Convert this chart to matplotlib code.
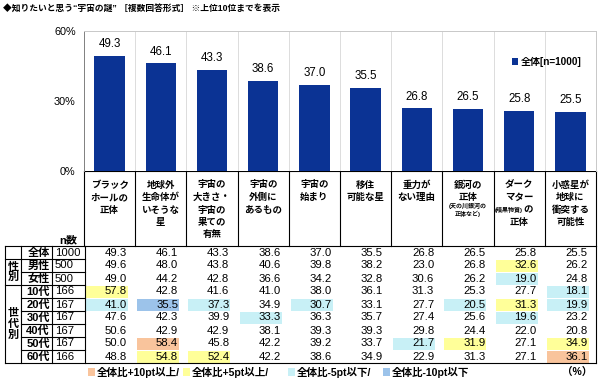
import matplotlib.pyplot as plt
from matplotlib.patches import Rectangle

plt.rcParams['font.family'] = ['Liberation Sans', 'Noto Sans CJK JP', 'DejaVu Sans']

# ---- data ----
categories = ['ブラック\nホールの\n正体', '地球外\n生命体が\nいそうな\n星', '宇宙の\n大きさ・\n宇宙の\n果ての\n有無',
              '宇宙の\n外側に\nあるもの', '宇宙の\n始まり', '移住\n可能な星', '重力が\nない理由',
              '銀河の\n正体', 'ダーク\nマター\n\n正体', '小惑星が\n地球に\n衝突する\n可能性']
overall = [49.3, 46.1, 43.3, 38.6, 37.0, 35.5, 26.8, 26.5, 25.8, 25.5]
row_labels = ['全体', '男性', '女性', '10代', '20代', '30代', '40代', '50代', '60代']
row_n = [1000, 500, 500, 166, 167, 167, 167, 167, 166]
rows = [
    [49.3, 46.1, 43.3, 38.6, 37.0, 35.5, 26.8, 26.5, 25.8, 25.5],
    [49.6, 48.0, 43.8, 40.6, 39.8, 38.2, 23.0, 26.8, 32.6, 26.2],
    [49.0, 44.2, 42.8, 36.6, 34.2, 32.8, 30.6, 26.2, 19.0, 24.8],
    [57.8, 42.8, 41.6, 41.0, 38.0, 36.1, 31.3, 25.3, 27.7, 18.1],
    [41.0, 35.5, 37.3, 34.9, 30.7, 33.1, 27.7, 20.5, 31.3, 19.9],
    [47.6, 42.3, 39.9, 33.3, 36.3, 35.7, 27.4, 25.6, 19.6, 23.2],
    [50.6, 42.9, 42.9, 38.1, 39.3, 39.3, 29.8, 24.4, 22.0, 20.8],
    [50.0, 58.4, 45.8, 42.2, 39.2, 33.7, 21.7, 31.9, 27.1, 34.9],
    [48.8, 54.8, 52.4, 42.2, 38.6, 34.9, 22.9, 31.3, 27.1, 36.1],
]

BAR = '#0b3394'
C_P10 = '#f9c49c'
C_P5 = '#ffff99'
C_M5 = '#c8f0f6'
C_M10 = '#9cc3ea'

W, H = 600, 379
fig = plt.figure(figsize=(6, 3.79), dpi=100)

# full-figure overlay in pixel coords for table and text
tab = fig.add_axes([0, 0, 1, 1])
tab.set_xlim(0, W)
tab.set_ylim(H, 0)
tab.axis('off')

x0, x1 = 84, 596
ytop, ybot = 31, 171
colw = (x1 - x0) / 10

ax = fig.add_axes([x0 / W, 1 - ybot / H, (x1 - x0) / W, (ybot - ytop) / H])
xs = list(range(10))
ax.bar(xs, overall, width=0.59, color=BAR, label='全体[n=1000]', zorder=3)
for x, v in zip(xs, overall):
    ax.text(x, v + 2.5, f'{v:.1f}', ha='center', va='bottom', fontsize=8.3)
ax.set_xlim(-0.5, 9.5)
ax.set_ylim(0, 60)
ax.set_yticks([0, 30, 60])
ax.set_yticklabels(['0%', '30%', '60%'], fontsize=7.8)
ax.tick_params(axis='y', length=0, pad=6)
ax.set_xticks([])
for i in range(1, 10):
    ax.axvline(i - 0.5, color='#dcdcdc', lw=0.7, zorder=1)
for s in ['top', 'right']:
    ax.spines[s].set_color('#c8c8c8')
    ax.spines[s].set_linewidth(0.7)
ax.spines['left'].set_color('#808080')
ax.spines['left'].set_linewidth(0.7)
ax.spines['bottom'].set_visible(False)
ax.legend(loc='upper right', bbox_to_anchor=(0.99, 0.88), frameon=False,
          handlelength=0.6, handleheight=0.6, handletextpad=0.3,
          prop={'weight': 'bold', 'size': 7.2})

# title
tab.text(3, 8, '◆知りたいと思う“宇宙の謎” ［複数回答形式］ ※上位10位までを表示',
         fontsize=6.3, fontweight='bold', va='center', ha='left')

# ---- table ----
hy0 = ybot
ry0 = 246
rh = 13
ry1 = ry0 + rh * len(rows)
lc = 0.8
k = 'black'

# header text
for i, lab in enumerate(categories):
    cx = x0 + colw * (i + 0.5)
    for j, line in enumerate(lab.split('\n')):
        if line:
            tab.text(cx, 185 + 12.5 * j, line, ha='center', va='center',
                     fontsize=6.8, fontweight='bold')
# small annotations
cx8 = x0 + colw * 7.5
tab.text(cx8, 206, '(天の川銀河の', ha='center', va='center', fontsize=4.3, fontweight='bold')
tab.text(cx8, 213.5, '正体など)', ha='center', va='center', fontsize=4.3, fontweight='bold')
cx9 = x0 + colw * 8.5
tab.text(cx9 + 4, 209.5, '(暗黒物質)', ha='right', va='center', fontsize=4.3, fontweight='bold')
tab.text(cx9 + 4, 209.5, 'の', ha='left', va='center', fontsize=6.8, fontweight='bold')
tab.text(68, 240, 'n数', ha='center', va='center', fontsize=8, fontweight='bold')

# header vertical lines
for i in range(11):
    xx = x0 + colw * i
    tab.plot([xx, xx], [hy0, ry0], color=k, lw=lc)
tab.plot([x0, x1], [hy0, hy0], color=k, lw=lc)
tab.plot([5, x1], [ry0, ry0], color=k, lw=lc)
tab.plot([5, x1], [ry1, ry1], color=k, lw=lc)
for xx in [5, 21, 52, x0 + 1]:
    tab.plot([xx, xx], [ry0, ry1], color=k, lw=lc)
tab.plot([x1, x1], [ry0, ry1], color=k, lw=lc)
# row separators in left part
for r in range(1, len(rows)):
    yy = ry0 + rh * r
    start = 5 if r in (1, 3) else 21
    tab.plot([start, x0 + 1], [yy, yy], color=k, lw=lc)

# group labels
tab.text(13, ry0 + rh * 2, '性\n別', ha='center', va='center', fontsize=8,
         fontweight='bold', linespacing=1.05)
tab.text(13, ry0 + rh * 6, '世\n代\n別', ha='center', va='center', fontsize=8,
         fontweight='bold', linespacing=1.05)

for r, (lab, n, vals) in enumerate(zip(row_labels, row_n, rows)):
    cy = ry0 + rh * (r + 0.5)
    tab.text(50, cy, lab, ha='right', va='center', fontsize=8, fontweight='bold')
    tab.text(55, cy, str(n), ha='left', va='center', fontsize=8.2)
    for i, v in enumerate(vals):
        cl = x0 + colw * i
        d = round(v - overall[i], 1)
        fc = None
        if r > 0:
            if d >= 10:
                fc = C_P10
            elif d >= 5:
                fc = C_P5
            elif d <= -10:
                fc = C_M10
            elif d <= -5:
                fc = C_M5
        if fc:
            tab.add_patch(Rectangle((cl + 2, cy - rh / 2 + 0.5), 42, rh - 1,
                                    facecolor=fc, edgecolor='none', zorder=0))
        tab.text(cl + 43, cy, f'{v:.1f}', ha='right', va='center', fontsize=8.2, zorder=2)

# legend row
leg_items = [(C_P10, '全体比+10pt以上/', 88), (C_P5, '全体比+5pt以上/', 183),
             (C_M5, '全体比-5pt以下/', 288), (C_M10, '全体比-10pt以下', 383)]
for c, t, xx in leg_items:
    tab.add_patch(Rectangle((xx, 368), 7, 8, facecolor=c, edgecolor='none'))
    tab.text(xx + 8.5, 372, t, ha='left', va='center', fontsize=7.6, fontweight='bold')
tab.text(592, 372, '（%）', ha='right', va='center', fontsize=7.6, fontweight='bold')

fig.savefig('out.png', dpi=100)
